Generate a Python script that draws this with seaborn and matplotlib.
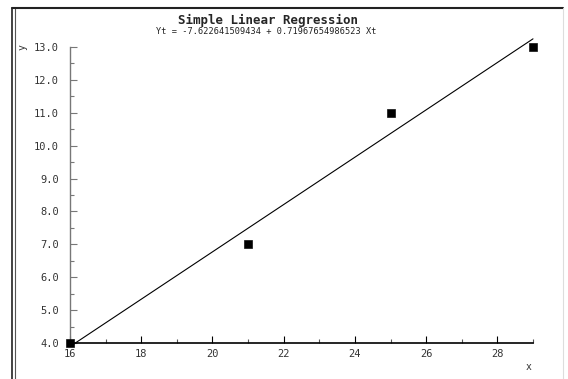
import numpy as np
import matplotlib
matplotlib.use("Agg")
import matplotlib.pyplot as plt
import seaborn as sns
from matplotlib.ticker import MultipleLocator, FormatStrFormatter
from matplotlib.lines import Line2D

# Data
x_vals = [16, 21, 25, 29]
y_vals = [4, 7, 11, 13]
intercept = -7.622641509434
slope = 0.71967654986523
x_ticks = [16, 18, 20, 22, 24, 26, 28]
y_ticks = [4.0, 5.0, 6.0, 7.0, 8.0, 9.0, 10.0, 11.0, 12.0, 13.0]

sns.set_style("white")
plt.rcParams["font.family"] = ["DejaVu Sans Mono", "DejaVu Sans"]

fig = plt.figure(figsize=(5.68, 3.79), dpi=100)
ax = fig.add_axes([70 / 568, 1 - 343 / 379, 463 / 568, 296 / 379])

line_x = np.array([min(x_vals), max(x_vals)])
sns.lineplot(x=line_x, y=intercept + slope * line_x, ax=ax, color="black",
             linewidth=0.8, clip_on=False)
sns.scatterplot(x=x_vals, y=y_vals, ax=ax, marker="s", s=30, color="black",
                edgecolor="black", clip_on=False, zorder=5)

ax.set_xlim(16, 29)
ax.set_ylim(4, 13)
ax.set_xticks(x_ticks)
ax.set_yticks(y_ticks)
ax.xaxis.set_minor_locator(MultipleLocator(1))
ax.yaxis.set_minor_locator(MultipleLocator(0.5))
ax.yaxis.set_major_formatter(FormatStrFormatter("%.1f"))
ax.tick_params(axis="both", which="both", direction="in", labelsize=7.5,
               labelcolor="#333333", bottom=True, left=True, width=0.8)
ax.tick_params(axis="x", which="major", length=5, pad=4, color="black")
ax.tick_params(axis="x", which="minor", length=3, color="#555555")
ax.tick_params(axis="y", which="major", length=5, pad=8, color="#777777")
ax.tick_params(axis="y", which="minor", length=3, color="#777777")

for side in ["top", "right"]:
    ax.spines[side].set_visible(False)
ax.spines["bottom"].set_color("black")
ax.spines["bottom"].set_linewidth(1.2)
ax.spines["left"].set_color("#777777")
ax.spines["left"].set_linewidth(1.0)

ax.set_xlabel("")
ax.set_ylabel("")
fig.text(529 / 568, 1 - 367 / 379, "x", fontsize=7, ha="center", va="center",
         color="#333333")
fig.text(22 / 568, 1 - 47 / 379, "y", fontsize=7, ha="center", va="center",
         rotation=90, color="#333333")

fig.text(268 / 568, 1 - 20 / 379, "Simple Linear Regression",
         fontsize=9, fontweight="bold", ha="center", va="center")
fig.text(266 / 568, 1 - 32 / 379,
         "Yt = -7.622641509434 + 0.71967654986523 Xt",
         fontsize=6.2, ha="center", va="center", color="#222222")

# frame around the chart image
fig.add_artist(Line2D([12 / 568, 12 / 568], [0, 1 - 8 / 379],
                      transform=fig.transFigure, color="#222222", linewidth=1.2))
fig.add_artist(Line2D([15 / 568, 15 / 568], [0, 1 - 8 / 379],
                      transform=fig.transFigure, color="#555555", linewidth=0.8))
fig.add_artist(Line2D([12 / 568, 563 / 568], [1 - 8 / 379, 1 - 8 / 379],
                      transform=fig.transFigure, color="#222222", linewidth=1.5))
fig.add_artist(Line2D([563 / 568, 563 / 568], [0, 1 - 8 / 379],
                      transform=fig.transFigure, color="#dddddd", linewidth=0.8))

fig.savefig("out.png", dpi=100)
